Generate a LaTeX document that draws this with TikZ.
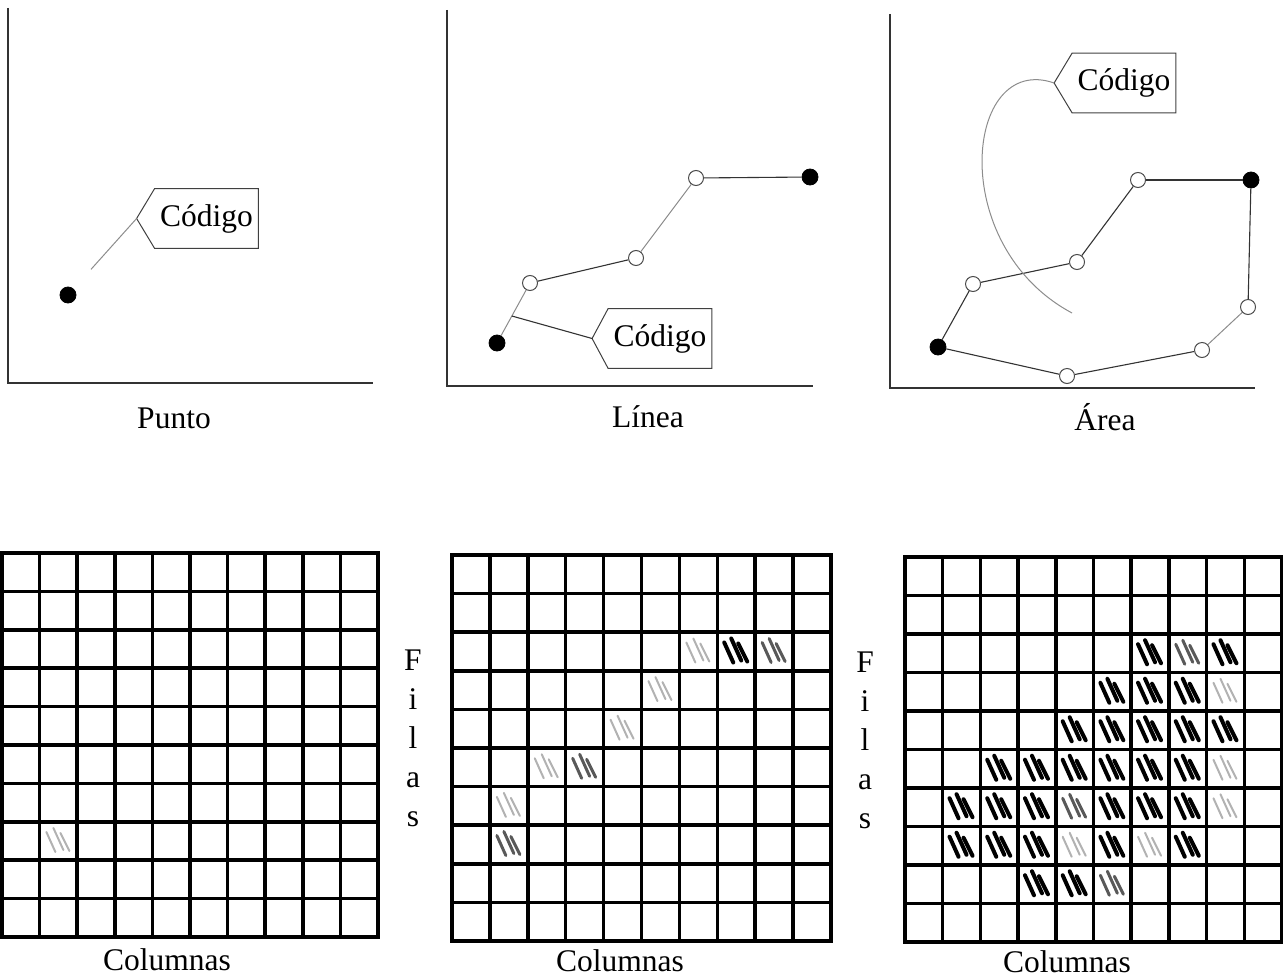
\documentclass[tikz,border=0pt]{standalone}
\usepackage{fontspec}
\setmainfont{Liberation Serif}
\usetikzlibrary{calc}
\tikzset{
  axisline/.style={line width=0.6pt, black!80},
  seg/.style={line width=0.55pt, black!80},
  fseg/.style={line width=0.5pt, black!45},
  fullpt/.style={circle, fill=black, draw=black, inner sep=0pt, minimum size=8pt},
  openpt/.style={circle, fill=white, draw=black!70, line width=0.5pt, inner sep=0pt, minimum size=7.5pt},
  codelabel/.style={inner sep=0pt, minimum width=51.5pt, minimum height=29.5pt, font=\fontsize{15.75}{19}\selectfont},
  tagline/.style={line width=0.5pt, black!75},
  caption/.style={font=\fontsize{15.75}{19}\selectfont, inner sep=0pt},
  filasnode/.style={align=center, inner sep=0pt, font=\fontsize{15.75}{19.5}\selectfont},
  gridline/.style={line width=1.75pt, black, line cap=rect},
  markdark/.style={line width=2pt, black, line cap=round},
  markmid/.style={line width=1.5pt, black!65, line cap=round},
  marklight/.style={line width=1pt, black!30, line cap=round},
}
\newcommand\rastergrid[4]{%
  \foreach \i in {0,...,10}{%
    \draw[gridline] ({#1+\i*(#3-#1)/10},#2) -- ({#1+\i*(#3-#1)/10},#4);
    \draw[gridline] (#1,{#2+\i*(#4-#2)/10}) -- (#3,{#2+\i*(#4-#2)/10});
  }}
\newcommand\cellmark[7]{%
  \pgfmathsetmacro\cmx{#1+(#5+0.5)*(#3-#1)/10}%
  \pgfmathsetmacro\cmy{#2+(#6+0.5)*(#4-#2)/10}%
  \begin{scope}[shift={(\cmx,\cmy)}]
    \draw[#7] (-12,-9) -- (-3,11);
    \draw[#7] (-5,-13) -- (5,9);
    \draw[#7] (2,-8) -- (11,10);
  \end{scope}}
\begin{document}
\begin{tikzpicture}[x=0.5pt,y=-0.5pt]
\useasboundingbox (0,0) rectangle (1283,979);

% ---------- Panel 1: Punto ----------
\coordinate (a1top) at (8,8);
\coordinate (a1o) at (8,383);
\coordinate (a1r) at (373,383);
\draw[axisline] (a1top) -- (a1o) -- (a1r);
\node[fullpt] (d1) at (68,295) {};
\node[codelabel] (L1) at (206.5,218.5) {Código};
\coordinate (T1) at ($(L1.west)+(-18,0)$);
\draw[tagline] (L1.north west) -- (L1.north east) -- (L1.south east) -- (L1.south west) -- (T1) -- cycle;
\draw[fseg, shorten <=13pt] (d1) -- (T1);
\node[caption] (cap1) at (174,418) {Punto};

% ---------- Panel 2: Linea ----------
\coordinate (a2top) at (447,10);
\coordinate (a2o) at (447,386);
\coordinate (a2r) at (813,386);
\draw[axisline] (a2top) -- (a2o) -- (a2r);
\node[fullpt] (p21) at (497,343) {};
\node[openpt] (p22) at (530,283) {};
\node[openpt] (p23) at (636,258) {};
\node[openpt] (p24) at (696,178) {};
\node[fullpt] (p25) at (810,177) {};
\draw[fseg] (p21) -- (p22);
\draw[seg] (p22) -- (p23);
\draw[fseg] (p23) -- (p24);
\draw[seg] (p24) -- (p25);
\node[codelabel] (L2) at (660,338.5) {Código};
\coordinate (T2) at ($(L2.west)+(-16,0)$);
\draw[tagline] (L2.north west) -- (L2.north east) -- (L2.south east) -- (L2.south west) -- (T2) -- cycle;
\coordinate (c2) at ($(p21)!0.45!(p22)$);
\draw[seg] (c2) -- (T2);
\node[caption] (cap2) at (648,417) {Línea};

% ---------- Panel 3: Area ----------
\coordinate (a3top) at (890,14);
\coordinate (a3o) at (890,388);
\coordinate (a3r) at (1255,388);
\draw[axisline] (a3top) -- (a3o) -- (a3r);
\node[fullpt] (p31) at (938,347) {};
\node[openpt] (p32) at (973,284) {};
\node[openpt] (p33) at (1077,262) {};
\node[openpt] (p34) at (1138,180) {};
\node[fullpt] (p35) at (1251,180) {};
\node[openpt] (p36) at (1248,307) {};
\node[openpt] (p37) at (1202,350) {};
\node[openpt] (p38) at (1067,376) {};
\draw[seg] (p31) -- (p32);
\draw[seg] (p32) -- (p33);
\draw[seg] (p33) -- (p34);
\draw[seg] (p34) -- (p35);
\draw[seg] (p35) -- (p36);
\draw[fseg] (p36) -- (p37);
\draw[seg] (p37) -- (p38);
\draw[seg] (p38) -- (p31);
\node[codelabel] (L3) at (1124,83) {Código};
\coordinate (T3) at ($(L3.west)+(-18,0)$);
\draw[tagline] (L3.north west) -- (L3.north east) -- (L3.south east) -- (L3.south west) -- (T3) -- cycle;
\coordinate (e3) at (1072,313);
\draw[fseg] (T3) .. controls (965,52) and (945,245) .. (e3);
\node[caption] (cap3) at (1105,417) {Área};

% ---------- Grid 1 ----------
\cellmark{2}{553}{378}{937}{1}{7}{marklight}
\rastergrid{2}{553}{378}{937}
\node[caption] (col1) at (167,960) {Columnas};
\node[filasnode] (fil1) at (413,738) {F\\i\\l\\a\\s};

% ---------- Grid 2 ----------
\foreach \c/\r/\s in {6/2/marklight,7/2/markdark,8/2/markmid,5/3/marklight,4/4/marklight,2/5/marklight,3/5/markmid,1/6/marklight,1/7/markmid}
  {\cellmark{452}{555}{831}{941}{\c}{\r}{\s}}
\rastergrid{452}{555}{831}{941}
\node[caption] (col2) at (620,961) {Columnas};
\node[filasnode] (fil2) at (865,740) {F\\i\\l\\a\\s};

% ---------- Grid 3 ----------
\foreach \c/\r/\s in {6/2/markdark,7/2/markmid,8/2/markdark,
  5/3/markdark,6/3/markdark,7/3/markdark,8/3/marklight,
  4/4/markdark,5/4/markdark,6/4/markdark,7/4/markdark,8/4/markdark,
  2/5/markdark,3/5/markdark,4/5/markdark,5/5/markdark,6/5/markdark,7/5/markdark,8/5/marklight,
  1/6/markdark,2/6/markdark,3/6/markdark,4/6/markmid,5/6/markdark,6/6/markdark,7/6/markdark,8/6/marklight,
  1/7/markdark,2/7/markdark,3/7/markdark,4/7/marklight,5/7/markdark,6/7/marklight,7/7/markdark,
  3/8/markdark,4/8/markdark,5/8/markmid}
  {\cellmark{905}{557}{1282}{942}{\c}{\r}{\s}}
\rastergrid{905}{557}{1282}{942}
\node[caption] (col3) at (1067,962) {Columnas};
\end{tikzpicture}
\end{document}
